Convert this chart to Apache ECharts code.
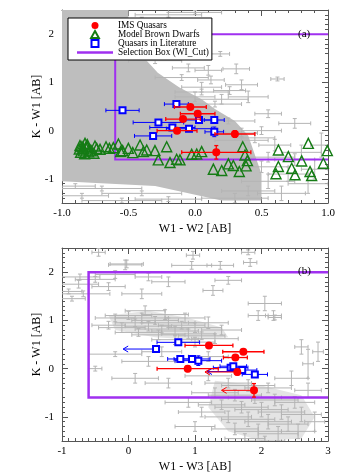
<!DOCTYPE html>
<html>
<head>
<meta charset="utf-8">
<script src="https://cdn.jsdelivr.net/npm/echarts@6/dist/echarts.min.js"></script>
<style>
  html, body { margin: 0; padding: 0; background: #fff; }
  #chart { width: 346px; height: 476px; }
</style>
</head>
<body>
<div id="chart"></div>
<script>
// ---- data: [x, y, xerr, yerr] ----
// panel (a): K-W1 vs W1-W2
var imsA = [[-0.035, 0.49, 0.12, 0.04], [0.02, 0.35, 0.13, 0.04], [-0.09, 0.24, 0.13, 0.04],
    [-0.135, 0.0, 0.15, 0.05], [0.30, -0.07, 0.15, 0.07], [0.16, -0.45, 0.26, 0.14]];
var litA = [[-0.545, 0.42, 0.125, 0.03], [-0.14, 0.55, 0.09, 0.03], [-0.275, 0.17, 0.19, 0.03],
    [0.03, 0.22, 0.1, 0.03], [0.145, 0.22, 0.075, 0.03], [-0.17, 0.065, 0.17, 0.03],
    [-0.045, 0.04, 0.17, 0.03], [0.145, -0.025, 0.07, 0.1], [-0.315, -0.11, 0.14, 0.03]];
var dwarfsA = [[-0.865, -0.31], [-0.839, -0.367], [-0.827, -0.264], [-0.809, -0.333], [-0.789, -0.401],
    [-0.752, -0.319], [-0.739, -0.367], [-0.714, -0.388], [-0.669, -0.333], [-0.644, -0.367],
    [-0.614, -0.353], [-0.576, -0.278], [-0.559, -0.436], [-0.544, -0.415], [-0.501, -0.367],
    [-0.468, -0.456], [-0.413, -0.299], [-0.388, -0.436], [-0.363, -0.401], [-0.301, -0.415],
    [-0.276, -0.607], [-0.213, -0.333], [-0.188, -0.662], [-0.138, -0.593], [-0.113, -0.607],
    [-0.025, -0.491], [0.013, -0.484], [0.05, -0.436], [0.138, -0.799], [0.201, -0.827],
    [0.251, -0.689], [0.288, -0.724], [0.333, -0.847], [0.359, -0.333], [0.376, -0.504],
    [0.384, -0.731], [0.394, -0.621], [0.627, -0.401], [0.627, -0.744], [0.609, -0.895],
    [0.702, -0.539], [0.727, -0.779], [0.752, -0.916], [0.802, -0.628], [0.852, -0.264],
    [0.865, -0.847], [0.877, -0.929], [0.965, -0.676], [0.995, -0.415],
    [-0.87, -0.38], [-0.86, -0.45], [-0.85, -0.33], [-0.84, -0.42], [-0.83, -0.48],
    [-0.82, -0.36], [-0.80, -0.44], [-0.78, -0.42], [-0.76, -0.47], [-0.81, -0.29]];
// outline of the dense field-source region
var cloudA = [[-1, 2.5], [-0.5, 2.5], [-0.5, 2.2], [-0.45, 1.8], [-0.38, 1.5], [-0.28, 1.2],
    [-0.12, 0.9], [0.05, 0.65], [0.15, 0.45], [0.3, 0.2], [0.4, -0.1], [0.45, -0.5], [0.5, -0.9],
    [0.5, -1.45], [0.2, -1.45], [-0.05, -1.3], [-0.3, -1.15], [-1, -1.05]];
var grayA = [[0.19, 1.59, 0.07, 0.05], [0.31, 1.28, 0.1, 0.1], [0.62, 1.07, 0.05, 0.04],
    [0.26, 0.83, 0.12, 0.08], [0.12, 1.05, 0.1, 0.08], [0.05, 0.9, 0.15, 0.1], [0.35, 0.95, 0.12, 0.1],
    [0.0, 0.7, 0.15, 0.1], [0.2, 0.65, 0.2, 0.1], [0.4, 0.7, 0.15, 0.12], [0.1, 1.25, 0.1, 0.1],
    [-0.05, 1.3, 0.12, 0.08], [0.55, 0.35, 0.1, 0.08], [0.75, 0.15, 0.12, 0.1], [0.45, -0.15, 0.15, 0.1],
    [0.6, -0.3, 0.12, 0.12], [0.8, -0.45, 0.15, 0.15], [0.5, -0.75, 0.2, 0.12], [0.7, -0.9, 0.15, 0.15],
    [0.9, -0.8, 0.1, 0.2], [0.55, -1.05, 0.2, 0.15], [0.85, -1.1, 0.15, 0.2], [0.4, -1.25, 0.2, 0.1],
    [0.65, -1.3, 0.18, 0.15], [0.95, -0.3, 0.08, 0.25], [0.35, -0.05, 0.12, 0.1], [0.75, -0.6, 0.15, 0.12],
    [0.3, -1.4, 0.25, 0.1], [-0.7, -1.2, 0.3, 0.05], [-0.4, -1.3, 0.3, 0.05], [-0.85, -1.35, 0.2, 0.05],
    [-0.2, -1.42, 0.25, 0.05], [-0.55, -1.45, 0.3, 0.05], [-0.9, -1.15, 0.15, 0.05],
    [0.15, 0.55, 0.2, 0.06], [0.25, 0.2, 0.2, 0.06], [0.35, -0.2, 0.2, 0.08], [0.05, 0.8, 0.2, 0.06],
    [-0.1, 1.1, 0.2, 0.06], [-0.3, 1.45, 0.2, 0.06], [-0.45, 1.8, 0.15, 0.06], [-0.4, 2.3, 0.2, 0.05],
    [-0.2, 2.4, 0.25, 0.05], [0.0, 2.45, 0.2, 0.04], [0.5, 0.0, 0.15, 0.08], [0.55, -0.55, 0.2, 0.1]];
var boxA = [[1, 2], [-0.6, 2], [-0.6, -0.6], [1, -0.6]];

// panel (b): K-W1 vs W1-W3
var imsB = [[1.21, 0.48, 0.36, 0.05], [1.727, 0.35, 0.31, 0.04], [1.607, 0.23, 0.18, 0.04],
    [0.89, 0.0, 0.46, 0.06], [1.636, -0.07, 0, 0.06], [1.887, -0.45, 0, 0.14]];
var imsLimB = [[1.636, -0.07, 1.15], [1.887, -0.45, 1.40]];
var litB = [[0.749, 0.545, 0.32, 0.03], [0.414, 0.406, 0, 0.03], [0.779, 0.2, 0.19, 0.03],
    [0.955, 0.2, 0.27, 0.03], [1.05, 0.165, 0.35, 0.1], [1.536, 0.02, 0.26, 0.03],
    [1.576, 0.05, 0.2, 0.03], [1.71, -0.03, 0.22, 0.05], [1.90, -0.12, 0.19, 0.03]];
var litLimB = [[0.414, 0.406, -0.08], [1.71, -0.06, 1.18]];
var cloudB1 = [[-0.3, 1.1], [0.3, 1.2], [0.9, 1.05], [1.4, 0.85], [1.5, 0.65], [1.0, 0.6], [0.4, 0.65], [-0.2, 0.8]];
var cloudB2 = [[1.3, -0.25], [2.0, -0.35], [2.6, -0.55], [2.8, -1.0], [2.6, -1.45], [2.0, -1.5], [1.5, -1.3], [1.2, -0.8]];
var grayB = [[-0.027, 2.17, 0.25, 0.08], [-0.45, 2.41, 0.1, 0.08], [-0.73, 1.9, 0.3, 0.06], [-0.68, 1.55, 0.4, 0.06],
    [-0.9, 1.6, 0.2, 0.05], [-0.75, 1.75, 0.3, 0.08], [-0.5, 1.85, 0.3, 0.06], [-0.3, 1.7, 0.25, 0.08],
    [-0.85, 1.45, 0.2, 0.05], [-0.2, 1.95, 0.3, 0.08], [-0.05, 2.15, 0.25, 0.1], [0.2, 1.55, 0.3, 0.1],
    [0.6, 1.8, 0.25, 0.1], [0.3, 1.9, 0.2, 0.08], [0.97, 2.35, 0.1, 0.08], [1.8, 2.41, 0.1, 0.05],
    [1.83, 2.2, 0.1, 0.08], [1.38, 2.14, 0.2, 0.08], [0.95, 2.14, 0.3, 0.08], [1.27, 1.62, 0.15, 0.1],
    [2.05, 1.35, 0.25, 0.15], [2.2, 1.06, 0.1, 0.05], [1.95, 1.1, 0.15, 0.1], [1.5, 1.83, 0.2, 0.08],
    [2.18, 1.1, 0.12, 0.1],
    [0.0, 1.1, 0.35, 0.08], [0.2, 1.05, 0.4, 0.1], [0.4, 1.0, 0.35, 0.08], [0.6, 0.95, 0.4, 0.1],
    [0.8, 0.9, 0.35, 0.08], [1.0, 0.85, 0.4, 0.1], [0.1, 0.95, 0.3, 0.08], [0.3, 0.88, 0.35, 0.1],
    [0.5, 0.82, 0.4, 0.08], [0.7, 0.78, 0.35, 0.1], [0.9, 0.72, 0.4, 0.1], [1.1, 0.68, 0.35, 0.08],
    [1.3, 0.62, 0.35, 0.1], [-0.2, 1.05, 0.3, 0.08], [-0.1, 0.85, 0.35, 0.1], [0.25, 1.2, 0.3, 0.1],
    [0.55, 1.12, 0.35, 0.1], [0.85, 1.05, 0.3, 0.1], [1.2, 0.95, 0.3, 0.12], [0.45, 0.7, 0.4, 0.1],
    [0.15, 0.75, 0.35, 0.08], [1.4, 0.8, 0.3, 0.1], [0.7, 0.6, 0.35, 0.1], [1.0, 0.55, 0.3, 0.1],
    [-0.3, 0.9, 0.25, 0.08], [-0.2, 0.3, 0.4, 0.05], [-0.5, 0.0, 0.1, 0.05], [0.3, 0.15, 0.4, 0.1],
    [0.1, -0.2, 0.35, 0.1], [0.6, -0.3, 0.35, 0.1], [0.5, 0.35, 0.3, 0.1], [1.2, 0.25, 0.3, 0.1],
    [1.5, -0.3, 0.35, 0.1], [1.8, -0.35, 0.4, 0.12], [2.1, -0.4, 0.35, 0.1], [1.3, -0.5, 0.35, 0.1],
    [1.6, -0.55, 0.4, 0.12], [1.9, -0.6, 0.4, 0.12], [2.2, -0.65, 0.35, 0.12], [2.5, -0.7, 0.3, 0.12],
    [1.4, -0.75, 0.35, 0.1], [1.7, -0.8, 0.4, 0.12], [2.0, -0.85, 0.4, 0.15], [2.3, -0.9, 0.35, 0.15],
    [2.6, -0.95, 0.3, 0.15], [1.5, -1.0, 0.35, 0.12], [1.8, -1.05, 0.4, 0.15], [2.1, -1.1, 0.35, 0.15],
    [2.4, -1.15, 0.3, 0.15], [1.6, -1.25, 0.35, 0.12], [1.95, -1.3, 0.35, 0.15], [2.25, -1.35, 0.3, 0.15],
    [2.55, -1.3, 0.25, 0.15], [1.75, -1.45, 0.3, 0.1], [2.05, -1.5, 0.3, 0.1], [1.1, -0.9, 0.35, 0.1],
    [0.9, -0.7, 0.35, 0.1], [1.0, -1.2, 0.3, 0.1], [2.7, -0.45, 0.2, 0.15], [2.8, -1.1, 0.15, 0.2],
    [2.45, -0.2, 0.25, 0.15], [1.2, -0.15, 0.35, 0.1], [2.7, 0.1, 0.08, 0.3], [2.85, 0.35, 0.08, 0.2],
    [2.6, 0.45, 0.1, 0.15]];
var boxB = [[3, 2], [-0.6, 2], [-0.6, -0.6], [3, -0.6]];

// tick labels
var xTicksA = [-1, -0.5, 0, 0.5, 1];
var xTicksB = [-1, 0, 1, 2, 3];
var yTicks = [-1, 0, 1, 2];

var FONT = 'Liberation Serif';
var PURPLE = '#a030f0';
var RED = '#ff0000';
var BLUE = '#0000ff';
var GREEN = '#157c15';
var GRAY = '#b4b4b4';
var BOX_NAME = 'Selection Box (WI_Cut)';

function errRender(color, lw) {
    return function (params, api) {
        var x = api.value(0), y = api.value(1), xe = api.value(2), ye = api.value(3);
        var st = { stroke: color, lineWidth: lw, fill: null };
        var kids = [];
        var cap = 2;
        if (xe > 0) {
            var l = api.coord([x - xe, y]), r = api.coord([x + xe, y]);
            kids.push({ type: 'line', shape: { x1: l[0], y1: l[1], x2: r[0], y2: r[1] }, style: st });
            kids.push({ type: 'line', shape: { x1: l[0], y1: l[1] - cap, x2: l[0], y2: l[1] + cap }, style: st });
            kids.push({ type: 'line', shape: { x1: r[0], y1: r[1] - cap, x2: r[0], y2: r[1] + cap }, style: st });
        }
        if (ye > 0) {
            var t = api.coord([x, y + ye]), b = api.coord([x, y - ye]);
            kids.push({ type: 'line', shape: { x1: t[0], y1: t[1], x2: b[0], y2: b[1] }, style: st });
            kids.push({ type: 'line', shape: { x1: t[0] - cap, y1: t[1], x2: t[0] + cap, y2: t[1] }, style: st });
            kids.push({ type: 'line', shape: { x1: b[0] - cap, y1: b[1], x2: b[0] + cap, y2: b[1] }, style: st });
        }
        return { type: 'group', children: kids };
    };
}

function arrowRender(color) {
    return function (params, api) {
        var p = api.coord([api.value(0), api.value(1)]);
        var tip = api.coord([api.value(2), api.value(1)]);
        var st = { stroke: color, lineWidth: 1, fill: null };
        return {
            type: 'group',
            children: [
                { type: 'line', shape: { x1: p[0], y1: p[1], x2: tip[0], y2: tip[1] }, style: st },
                { type: 'polyline', shape: { points: [[tip[0] + 5, tip[1] - 3], [tip[0], tip[1]], [tip[0] + 5, tip[1] + 3]] }, style: st }
            ]
        };
    };
}

function polyRender(outline, fill) {
    return function (params, api) {
        if (params.dataIndex !== 0) return null;
        return {
            type: 'polygon',
            shape: { points: outline.map(function (p) { return api.coord(p); }) },
            style: { fill: fill }
        };
    };
}

// selection box drawn as one polyline through the box corners
function boxRender(corners, width) {
    return function (params, api) {
        if (params.dataIndex !== 0) return null;
        return {
            type: 'polyline',
            shape: { points: corners.map(function (p) { return api.coord(p); }) },
            style: { stroke: PURPLE, lineWidth: width, fill: null }
        };
    };
}

function makeX(gi, min, max, interval, minorSplit, pos, showLabel, name, dec) {
    return {
        type: 'value', gridIndex: gi, min: min, max: max, interval: interval, position: pos,
        name: name, nameLocation: 'middle', nameGap: 20,
        nameTextStyle: { fontFamily: FONT, fontSize: 12, color: '#000' },
        axisLine: { onZero: false, lineStyle: { color: '#555', width: 1 } },
        axisTick: { inside: true, length: 6, lineStyle: { color: '#555' } },
        minorTick: { show: true, splitNumber: minorSplit, length: 3, lineStyle: { color: '#555' } },
        splitLine: { show: false },
        axisLabel: {
            show: showLabel, margin: 5, fontFamily: FONT, fontSize: 11, color: '#000',
            formatter: function (v) { return dec ? v.toFixed(1) : String(v); }
        }
    };
}

function makeY(gi, pos, showLabel, name) {
    return {
        type: 'value', gridIndex: gi, min: -1.5, max: 2.5, interval: 0.5, position: pos,
        name: name, nameLocation: 'middle', nameGap: 19, nameMoveOverlap: false,
        nameTextStyle: { fontFamily: FONT, fontSize: 12, color: '#000' },
        axisLine: { onZero: false, lineStyle: { color: '#555', width: 1 } },
        axisTick: { inside: true, length: 6, customValues: yTicks, lineStyle: { color: '#555' } },
        minorTick: { show: true, splitNumber: 5, length: 3, lineStyle: { color: '#555' } },
        splitLine: { show: false },
        axisLabel: { show: showLabel, margin: 8, customValues: yTicks, fontFamily: FONT, fontSize: 11, color: '#000' }
    };
}

function scatterIms(xi, yi, rows) {
    return { name: 'IMS Quasars', type: 'scatter', xAxisIndex: xi, yAxisIndex: yi, z: 8,
        data: rows.map(function (d) { return [d[0], d[1]]; }),
        symbol: 'circle', symbolSize: 8, itemStyle: { color: RED, opacity: 1 } };
}
function scatterLit(xi, yi, rows) {
    return { name: 'Quasars in Literature', type: 'scatter', xAxisIndex: xi, yAxisIndex: yi, z: 6,
        data: rows.map(function (d) { return [d[0], d[1]]; }),
        symbol: 'rect', symbolSize: 6, itemStyle: { color: '#fff', borderColor: BLUE, borderWidth: 2, opacity: 1 } };
}
function custom(xi, yi, z, rows, render, name) {
    var s = { type: 'custom', xAxisIndex: xi, yAxisIndex: yi, z: z, clip: true, silent: true,
        data: rows, encode: { x: 0, y: 1 }, renderItem: render };
    if (name) { s.name = name; s.itemStyle = { color: PURPLE }; }
    return s;
}

var chart = echarts.init(document.getElementById('chart'));
var option = {
    animation: false,
    backgroundColor: '#fff',
    title: [
        { text: '(a)', left: 293, top: 24, textStyle: { fontFamily: FONT, fontSize: 11, fontWeight: 'normal', color: '#000' } },
        { text: '(b)', left: 293, top: 261, textStyle: { fontFamily: FONT, fontSize: 11, fontWeight: 'normal', color: '#000' } }
    ],
    legend: {
        left: 68, top: 18, orient: 'vertical',
        data: [
            { name: 'IMS Quasars', icon: 'circle' },
            { name: 'Model Brown Dwarfs', icon: 'path://M5,0L10,9L0,9Z' },
            { name: 'Quasars in Literature', icon: 'path://M0,0H10V10H0Z' },
            { name: BOX_NAME, icon: 'path://M0,0H36V2.4H0Z' }
        ],
        symbolKeepAspect: true,
        itemWidth: 36, itemHeight: 7, itemGap: 0,
        padding: [3, 3, 3, 9],
        backgroundColor: '#fff', borderColor: '#000', borderWidth: 1,
        textStyle: { fontFamily: FONT, fontSize: 9.3, color: '#000', lineHeight: 8 },
        selectedMode: false
    },
    grid: [
        { left: 62, top: 10, width: 266, height: 193 },
        { left: 62, top: 248, width: 266, height: 193 }
    ],
    xAxis: [
        makeX(0, -1, 1, 0.5, 5, 'bottom', true, 'W1 - W2 [AB]', true),
        makeX(0, -1, 1, 0.5, 5, 'top', false, '', true),
        makeX(1, -1, 3, 1, 10, 'bottom', true, 'W1 - W3 [AB]', false),
        makeX(1, -1, 3, 1, 10, 'top', false, '', false)
    ],
    yAxis: [
        makeY(0, 'left', true, 'K - W1 [AB]'),
        makeY(0, 'right', false, ''),
        makeY(1, 'left', true, 'K - W1 [AB]'),
        makeY(1, 'right', false, '')
    ],
    series: [
        // panel (a)
        custom(0, 0, 1, cloudA, polyRender(cloudA, '#bebebe')),
        custom(0, 0, 2, grayA, errRender(GRAY, 1)),
        custom(0, 0, 3, boxA, boxRender(boxA, 2), BOX_NAME),
        { name: 'Model Brown Dwarfs', type: 'scatter', xAxisIndex: 0, yAxisIndex: 0, z: 4,
          data: dwarfsA, symbol: 'triangle', symbolSize: 10,
          itemStyle: { color: 'rgba(0,0,0,0)', borderColor: GREEN, borderWidth: 1.4, opacity: 1 } },
        custom(0, 0, 5, litA, errRender(BLUE, 1)),
        scatterLit(0, 0, litA),
        custom(0, 0, 7, imsA, errRender(RED, 1.3)),
        scatterIms(0, 0, imsA),

        // panel (b)
        custom(2, 2, 1, cloudB1, polyRender(cloudB1, '#e4e4e4')),
        custom(2, 2, 1, cloudB2, polyRender(cloudB2, '#e4e4e4')),
        custom(2, 2, 2, grayB, errRender(GRAY, 1)),
        custom(2, 2, 3, boxB, boxRender(boxB, 2.5), BOX_NAME),
        custom(2, 2, 5, litB, errRender(BLUE, 1)),
        custom(2, 2, 5, litLimB, arrowRender(BLUE)),
        scatterLit(2, 2, litB),
        custom(2, 2, 7, imsB, errRender(RED, 1.3)),
        custom(2, 2, 7, imsLimB, arrowRender(RED)),
        scatterIms(2, 2, imsB)
    ]
};
chart.setOption(option);
</script>
</body>
</html>
